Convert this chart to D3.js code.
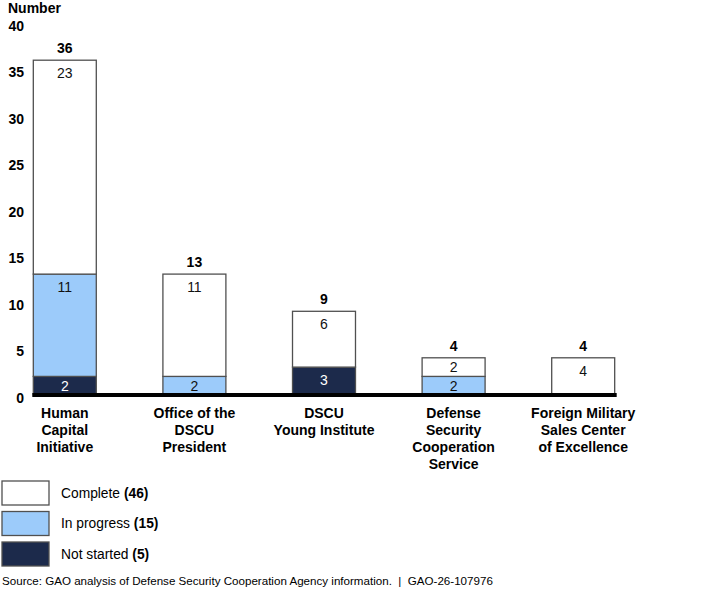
<!DOCTYPE html>
<html>
<head>
<meta charset="utf-8">
<script src="https://cdn.jsdelivr.net/npm/d3@7"></script>
<style>
  body { margin: 0; background: #fff; }
  text { font-family: "Liberation Sans", Arial, sans-serif; }
</style>
</head>
<body>
<div id="chart"></div>
<script>
var categories = [
  ["Human", "Capital", "Initiative"],
  ["Office of the", "DSCU", "President"],
  ["DSCU", "Young Institute"],
  ["Defense", "Security", "Cooperation", "Service"],
  ["Foreign Military", "Sales Center", "of Excellence"]
];
var notStarted = [2, 0, 3, 0, 0];
var inProgress = [11, 2, 0, 2, 0];
var complete = [23, 11, 6, 2, 4];
var yTicks = [0, 5, 10, 15, 20, 25, 30, 35, 40];
var seriesNames = ["Not started", "In progress", "Complete"];
var colors = {"Not started": "#1c2a4b", "In progress": "#9ccbfa", "Complete": "#ffffff"};

var svgWidth = 720;
var svgHeight = 593;

var svg = d3.select("#chart")
  .append("svg")
  .attr("width", svgWidth)
  .attr("height", svgHeight);

var idx = d3.range(categories.length);
var rows = idx.map(function(i) {
  return {i: i, "Not started": notStarted[i], "In progress": inProgress[i], "Complete": complete[i]};
});
var stack = d3.stack().keys(seriesNames)(rows);

var x = d3.scaleBand()
  .domain(idx)
  .range([0, 648])
  .paddingInner(0.514)
  .paddingOuter(0.257);

var y = d3.scaleLinear()
  .domain([0, 40])
  .range([395, 23]);

// y axis labels only
var yAxis = d3.axisLeft(y).tickValues(yTicks).tickSize(0).tickPadding(0);
svg.append("g")
  .attr("transform", "translate(24, 3)")
  .call(yAxis)
  .call(function(g) { g.select(".domain").remove(); })
  .selectAll("text")
  .attr("font-family", "Liberation Sans, Arial, sans-serif")
  .attr("font-size", "14px")
  .attr("font-weight", "bold")
  .attr("fill", "#000");

svg.append("text")
  .attr("x", 8)
  .attr("y", 13)
  .attr("font-size", "14px")
  .attr("font-weight", "bold")
  .text("Number");

// stacked bars
var layers = svg.selectAll(".layer")
  .data(stack)
  .enter()
  .append("g")
  .attr("class", "layer");

layers.selectAll("rect")
  .data(function(s) { return s.map(function(d) { return {key: s.key, d: d}; }).filter(function(o) { return o.d[1] > o.d[0]; }); })
  .enter()
  .append("rect")
  .attr("x", function(o) { return x(o.d.data.i); })
  .attr("y", function(o) { return y(o.d[1]); })
  .attr("width", x.bandwidth())
  .attr("height", function(o) { return y(o.d[0]) - y(o.d[1]); })
  .attr("fill", function(o) { return colors[o.key]; })
  .attr("stroke", "#505050")
  .attr("stroke-width", 1.3);

layers.selectAll("text")
  .data(function(s) { return s.map(function(d) { return {key: s.key, d: d}; }).filter(function(o) { return o.d[1] > o.d[0]; }); })
  .enter()
  .append("text")
  .attr("x", function(o) { return x(o.d.data.i) + x.bandwidth() / 2; })
  .attr("y", function(o) {
    var h = y(o.d[0]) - y(o.d[1]);
    return y(o.d[1]) + Math.min(13, h / 2);
  })
  .attr("dy", "0.36em")
  .attr("text-anchor", "middle")
  .attr("font-size", "14px")
  .attr("fill", function(o) { return o.key === "Not started" ? "#fff" : "#111"; })
  .text(function(o) { return o.d[1] - o.d[0]; });

// totals
svg.selectAll(".total")
  .data(rows)
  .enter()
  .append("text")
  .attr("class", "total")
  .attr("x", function(r) { return x(r.i) + x.bandwidth() / 2; })
  .attr("y", function(r) { return y(r["Not started"] + r["In progress"] + r["Complete"]) - 7; })
  .attr("text-anchor", "middle")
  .attr("font-size", "14px")
  .attr("font-weight", "bold")
  .text(function(r) { return r["Not started"] + r["In progress"] + r["Complete"]; });

// baseline
svg.append("line")
  .attr("x1", x(0) - 1)
  .attr("x2", x(idx.length - 1) + x.bandwidth() + 2)
  .attr("y1", y(0))
  .attr("y2", y(0))
  .attr("stroke", "#000")
  .attr("stroke-width", 4);

// category labels
var catLabels = svg.selectAll(".cat")
  .data(categories)
  .enter()
  .append("text")
  .attr("class", "cat")
  .attr("text-anchor", "middle")
  .attr("font-size", "14px")
  .attr("font-weight", "bold");

catLabels.selectAll("tspan")
  .data(function(lines, i) { return lines.map(function(l) { return {l: l, i: i}; }); })
  .enter()
  .append("tspan")
  .attr("x", function(o) { return x(o.i) + x.bandwidth() / 2; })
  .attr("y", function(o, j) { return 418 + j * 17; })
  .text(function(o) { return o.l; });

// legend
var legendItems = [
  {name: "Complete", total: d3.sum(complete)},
  {name: "In progress", total: d3.sum(inProgress)},
  {name: "Not started", total: d3.sum(notStarted)}
];

var legend = svg.selectAll(".legend")
  .data(legendItems)
  .enter()
  .append("g")
  .attr("class", "legend")
  .attr("transform", function(d, i) { return "translate(2, " + (481 + i * 30.5) + ")"; });

legend.append("rect")
  .attr("width", 47)
  .attr("height", 24)
  .attr("fill", function(d) { return colors[d.name]; })
  .attr("stroke", "#505050")
  .attr("stroke-width", 1.3);

var lt = legend.append("text")
  .attr("x", 59)
  .attr("y", 12)
  .attr("dy", "0.36em")
  .attr("font-size", "13.8px");
lt.append("tspan").text(function(d) { return d.name + " "; });
lt.append("tspan").attr("font-weight", "bold").text(function(d) { return "(" + d.total + ")"; });

svg.append("text")
  .attr("x", 2)
  .attr("y", 585)
  .attr("font-size", "11.6px")
  .attr("fill", "#000")
  .text("Source: GAO analysis of Defense Security Cooperation Agency information.  |  GAO-26-107976")
  .attr("xml:space", "preserve")
  .style("white-space", "pre");
</script>
</body>
</html>
